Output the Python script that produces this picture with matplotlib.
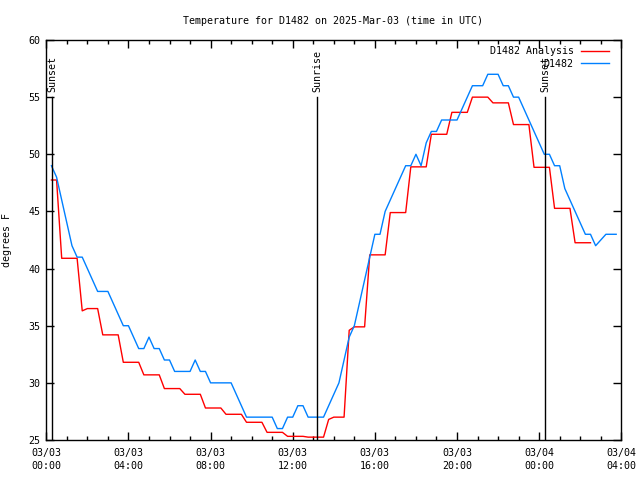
import matplotlib
matplotlib.use("Agg")
import matplotlib.pyplot as plt

# Observed temperatures (every 15 min, hours since 03/03 00:00 UTC)
obs_hours = [0.25, 0.5, 0.75, 1.0, 1.25, 1.5, 1.75, 2.0, 2.25, 2.5, 2.75, 3.0,
             3.25, 3.5, 3.75, 4.0, 4.25, 4.5, 4.75, 5.0, 5.25, 5.5, 5.75, 6.0,
             6.25, 6.5, 6.75, 7.0, 7.25, 7.5, 7.75, 8.0, 8.25, 8.5, 8.75, 9.0,
             9.25, 9.5, 9.75, 10.0, 10.25, 10.5, 10.75, 11.0, 11.25, 11.5, 11.75, 12.0,
             12.25, 12.5, 12.75, 13.0, 13.25, 13.5, 13.75, 14.0, 14.25, 14.5, 14.75, 15.0,
             15.25, 15.5, 15.75, 16.0, 16.25, 16.5, 16.75, 17.0, 17.25, 17.5, 17.75, 18.0,
             18.25, 18.5, 18.75, 19.0, 19.25, 19.5, 19.75, 20.0, 20.25, 20.5, 20.75, 21.0,
             21.25, 21.5, 21.75, 22.0, 22.25, 22.5, 22.75, 23.0, 23.25, 23.5, 23.75, 24.0,
             24.25, 24.5, 24.75, 25.0, 25.25, 25.5, 25.75, 26.0, 26.25, 26.5, 26.75, 27.0,
             27.25, 27.5, 27.75]
obs_temps = [49, 48, 46, 44, 42, 41, 41, 40, 39, 38, 38, 38,
             37, 36, 35, 35, 34, 33, 33, 34, 33, 33, 32, 32,
             31, 31, 31, 31, 32, 31, 31, 30, 30, 30, 30, 30,
             29, 28, 27, 27, 27, 27, 27, 27, 26, 26, 27, 27,
             28, 28, 27, 27, 27, 27, 28, 29, 30, 32, 34, 35,
             37, 39, 41, 43, 43, 45, 46, 47, 48, 49, 49, 50,
             49, 51, 52, 52, 53, 53, 53, 53, 54, 55, 56, 56,
             56, 57, 57, 57, 56, 56, 55, 55, 54, 53, 52, 51,
             50, 50, 49, 49, 47, 46, 45, 44, 43, 43, 42, 42.5,
             43, 43, 43]

# Analysis temperatures (corner points of the stepped curve)
ana_hours = [0.25, 0.5, 0.75, 1.5, 1.75, 2.0, 2.5, 2.75, 3.5, 3.75, 4.5, 4.75,
             5.5, 5.75, 6.5, 6.75, 7.5, 7.75, 8.5, 8.75, 9.5, 9.75, 10.5, 10.75,
             11.5, 11.75, 12.5, 12.75, 13.5, 13.75, 14.0, 14.5, 14.75, 15.0, 15.5, 15.75,
             16.5, 16.75, 17.5, 17.75, 18.5, 18.75, 19.5, 19.75, 20.5, 20.75, 21.5, 21.75,
             22.5, 22.75, 23.5, 23.75, 24.5, 24.75, 25.5, 25.75, 26.5]
ana_temps = [47.75, 47.75, 40.9, 40.9, 36.3, 36.5, 36.5, 34.2, 34.2, 31.8, 31.8, 30.7,
             30.7, 29.5, 29.5, 29.0, 29.0, 27.8, 27.8, 27.25, 27.25, 26.55, 26.55, 25.67,
             25.67, 25.32, 25.32, 25.25, 25.25, 26.8, 27.0, 27.0, 34.6, 34.9, 34.9, 41.2,
             41.2, 44.9, 44.9, 48.9, 48.9, 51.75, 51.75, 53.67, 53.67, 55.0, 55.0, 54.5,
             54.5, 52.6, 52.6, 48.86, 48.86, 45.27, 45.27, 42.26, 42.26]

sun_hours = [0.29, 13.19, 24.28]
sun_labels = ["Sunset", "Sunrise", "Sunset"]

xtick_hours = [0, 4, 8, 12, 16, 20, 24, 28]
xtick_labels = ["03/03\n00:00", "03/03\n04:00", "03/03\n08:00", "03/03\n12:00",
                "03/03\n16:00", "03/03\n20:00", "03/04\n00:00", "03/04\n04:00"]
ytick_vals = [25, 30, 35, 40, 45, 50, 55, 60]

plt.rcParams["font.family"] = "DejaVu Sans Mono"
fs = 7.2

fig = plt.figure(figsize=(6.4, 4.8), dpi=100)
ax = fig.add_axes([46.3 / 640, 40 / 480, 575 / 640, 400 / 480])

ax.plot(ana_hours, ana_temps, color="#ff0000", lw=1.0, label="D1482 Analysis")
ax.plot(obs_hours, obs_temps, color="#0080ff", lw=1.0, label="D1482")

# sunrise / sunset markers
for h, lab in zip(sun_hours, sun_labels):
    ax.plot([h, h], [25, 55], color="black", lw=1.0)
    ax.text(h, 55.45, lab, rotation=90, ha="center", va="bottom", fontsize=fs)

ax.set_xlim(0, 28)
ax.set_ylim(25, 60)
ax.set_xticks(xtick_hours)
ax.set_xticklabels(xtick_labels, fontsize=fs, linespacing=1.45)
ax.set_xticks(range(0, 29), minor=True)
ax.set_yticks(ytick_vals)
ax.set_yticklabels([str(v) for v in ytick_vals], fontsize=fs)
ax.tick_params(which="both", direction="in", top=True, right=True, width=1.0, color="black")
ax.tick_params(which="major", length=6)
ax.tick_params(axis="x", which="major", pad=5.5)
ax.tick_params(axis="y", which="major", pad=4)
ax.tick_params(which="minor", length=3)
for sp in ax.spines.values():
    sp.set_linewidth(1.0)

fig.text(7 / 640, 0.5, "degrees F", rotation=90, ha="center", va="center", fontsize=fs)
fig.text(333 / 640, 1 - 20.5 / 480, "Temperature for D1482 on 2025-Mar-03 (time in UTC)",
         ha="center", va="center", fontsize=fs)

ax.legend(loc="upper right", frameon=False, markerfirst=False, fontsize=fs,
          handlelength=2.8, handletextpad=0.75, borderaxespad=0, borderpad=0,
          labelspacing=0.25, bbox_to_anchor=((609 - 46.3) / 575, (440 - 46.5) / 400))

fig.savefig("out.png", dpi=100)
